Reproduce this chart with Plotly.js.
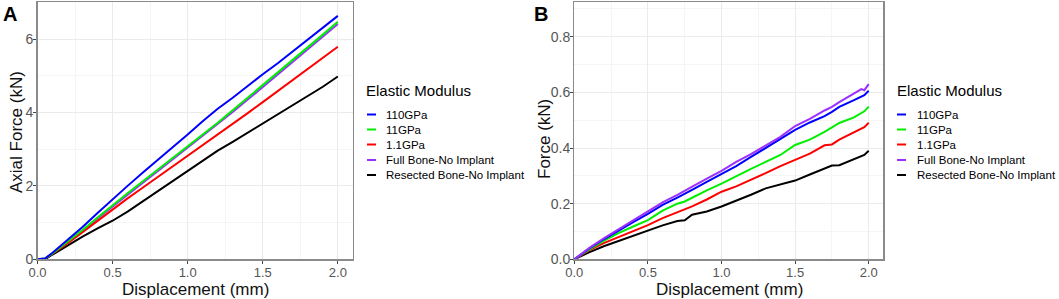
<!DOCTYPE html>
<html>
<head>
<meta charset="utf-8">
<script src="https://cdn.plot.ly/plotly-3.0.1.min.js"></script>
<style>html,body{margin:0;padding:0;background:#fff}#chart{width:1059px;height:299px}</style>
</head>
<body>
<div id="chart"></div>
<script>
// ---- Data ----
var seriesNames = ["110GPa", "11GPa", "1.1GPa", "Full Bone-No Implant", "Resected Bone-No Implant"];
var seriesColors = ["#0000ff", "#00ee00", "#ff0000", "#9b30ff", "#000000"];

// Panel A: Axial force (kN) vs displacement (mm)
var dispA = [0, 0.05, 0.1, 0.2, 0.3, 0.4, 0.5, 0.6, 0.7, 0.8, 0.9, 1.0, 1.1, 1.2, 1.3, 1.4, 1.5, 1.6, 1.7, 1.8, 1.9, 2.0];
var a110 = [0, 0.02, 0.18, 0.52, 0.88, 1.26, 1.64, 2.0, 2.36, 2.7, 3.05, 3.4, 3.76, 4.1, 4.4, 4.73, 5.04, 5.34, 5.66, 5.98, 6.3, 6.63];
var a11 = [0, 0.02, 0.16, 0.47, 0.8, 1.14, 1.48, 1.8, 2.12, 2.44, 2.76, 3.06, 3.4, 3.72, 4.06, 4.4, 4.75, 5.1, 5.44, 5.78, 6.12, 6.47];
var a1_1 = [0, 0.02, 0.15, 0.43, 0.74, 1.05, 1.36, 1.66, 1.95, 2.24, 2.52, 2.8, 3.1, 3.4, 3.68, 3.98, 4.28, 4.58, 4.88, 5.18, 5.48, 5.79];
var aFull = [0, 0.01, 0.14, 0.45, 0.78, 1.11, 1.44, 1.76, 2.08, 2.4, 2.72, 3.03, 3.36, 3.68, 4.01, 4.35, 4.69, 5.03, 5.37, 5.71, 6.06, 6.41];
var aResected = [0, 0.0, 0.13, 0.38, 0.62, 0.84, 1.05, 1.3, 1.58, 1.84, 2.12, 2.42, 2.7, 2.96, 3.2, 3.45, 3.7, 3.94, 4.2, 4.46, 4.7, 4.98];

// Panel B: Force (kN) vs displacement (mm)
var dispB = [0, 0.1, 0.2, 0.3, 0.4, 0.5, 0.6, 0.7, 0.75, 0.8, 0.9, 1.0, 1.1, 1.2, 1.3, 1.4, 1.5, 1.6, 1.7, 1.75, 1.8, 1.9, 1.95, 1.97, 2.0];
var b110 = [0, 0.038, 0.072, 0.104, 0.134, 0.163, 0.196, 0.222, 0.235, 0.25, 0.278, 0.305, 0.335, 0.368, 0.4, 0.43, 0.465, 0.492, 0.515, 0.53, 0.548, 0.572, 0.585, 0.59, 0.606];
var b11 = [0, 0.035, 0.066, 0.094, 0.118, 0.141, 0.175, 0.2, 0.208, 0.222, 0.248, 0.272, 0.3, 0.325, 0.35, 0.375, 0.411, 0.43, 0.458, 0.475, 0.49, 0.51, 0.528, 0.532, 0.549];
var b1_1 = [0, 0.032, 0.058, 0.08, 0.102, 0.123, 0.148, 0.17, 0.18, 0.19, 0.215, 0.243, 0.262, 0.285, 0.31, 0.335, 0.357, 0.38, 0.41, 0.413, 0.43, 0.455, 0.47, 0.475, 0.491];
var bFull = [0, 0.04, 0.075, 0.108, 0.14, 0.171, 0.205, 0.232, 0.247, 0.262, 0.29, 0.318, 0.35, 0.378, 0.41, 0.44, 0.479, 0.505, 0.535, 0.548, 0.565, 0.595, 0.612, 0.608, 0.63];
var bResected = [0, 0.025, 0.047, 0.066, 0.085, 0.103, 0.122, 0.138, 0.14, 0.16, 0.172, 0.19, 0.21, 0.232, 0.255, 0.27, 0.283, 0.305, 0.325, 0.337, 0.338, 0.36, 0.37, 0.375, 0.39];

var xTitle = "Displacement (mm)";
var yTitleA = "Axial Force (kN)";
var yTitleB = "Force (kN)";

var seriesA = [a110, a11, a1_1, aFull, aResected];
var seriesB = [b110, b11, b1_1, bFull, bResected];

var traces = [];
[3, 4, 2, 1, 0].forEach(function (i) {
  traces.push({x: dispA, y: seriesA[i], type: 'scatter', mode: 'lines', name: seriesNames[i],
    line: {color: seriesColors[i], width: 2}, xaxis: 'x', yaxis: 'y', showlegend: false});
});
[4, 2, 1, 0, 3].forEach(function (i) {
  traces.push({x: dispB, y: seriesB[i], type: 'scatter', mode: 'lines', name: seriesNames[i],
    line: {color: seriesColors[i], width: 2}, xaxis: 'x2', yaxis: 'y2', showlegend: false});
});

var W = 1059, H = 299;
function px(x) { return x / W; }
function py(y) { return 1 - y / H; }

var FONT = 'Liberation Sans, Arial, sans-serif';
function xaxisDef(dom) {
  return {
    domain: dom, range: [0, 2.099], tickvals: [0, 0.5, 1, 1.5, 2], ticktext: ['0.0', '0.5', '1.0', '1.5', '2.0'],
    showgrid: true, gridcolor: '#ebebeb', gridwidth: 1,
    minor: {dtick: 0.25, tick0: 0, showgrid: true, gridcolor: '#f5f5f5', gridwidth: 1},
    zeroline: false, showline: true, mirror: true, linecolor: '#8a8a8a', linewidth: 1.3,
    ticks: 'outside', ticklen: 3, tickcolor: '#444', tickwidth: 1, ticklabelstandoff: -2,
    tickfont: {family: FONT, size: 13, color: '#555'},
    automargin: false, fixedrange: true
  };
}
function yaxisDef(rng, ticks, labels, minorDt) {
  return {
    domain: [py(259.3), py(2.3)], range: rng, tickvals: ticks, ticktext: labels,
    showgrid: true, gridcolor: '#ebebeb', gridwidth: 1,
    minor: {dtick: minorDt, tick0: 0, showgrid: true, gridcolor: '#f5f5f5', gridwidth: 1},
    zeroline: false, showline: true, mirror: true, linecolor: '#8a8a8a', linewidth: 1.3,
    ticks: 'outside', ticklen: 3, tickcolor: '#444', tickwidth: 1, ticklabelstandoff: -3,
    tickfont: {family: FONT, size: 14, color: '#555'},
    automargin: false, fixedrange: true
  };
}

function ann(text, x, y, size, opts) {
  return Object.assign({text: text, x: px(x), y: py(y), xref: 'paper', yref: 'paper', xanchor: 'left', yanchor: 'middle',
    showarrow: false, borderpad: 0, font: {family: FONT, size: size, color: '#000'}}, opts || {});
}
var titleFont = {family: FONT, size: 17, color: '#111'};

var annotations = [
  ann('<b>A</b>', 2, 14, 20),
  ann('<b>B</b>', 533, 14, 20),
  ann(xTitle, 195, 289, 17, {xanchor: 'center', font: titleFont}),
  ann(xTitle, 729, 289, 17, {xanchor: 'center', font: titleFont}),
  ann(yTitleA, 17, 132, 17, {xanchor: 'center', textangle: -90, font: titleFont}),
  ann(yTitleB, 544, 139, 17, {xanchor: 'center', textangle: -90, font: titleFont})
];
var shapes = [];
var legendPos = [{title: 366, line: 367, text: 385.7}, {title: 896.7, line: 897, text: 916.7}];
var itemY = [114.5, 129.5, 144.5, 160, 175];
legendPos.forEach(function (lp) {
  annotations.push(ann('Elastic Modulus', lp.title - 1, 90, 15));
  seriesNames.forEach(function (n, i) {
    annotations.push(ann(n, lp.text - 1, itemY[i], 11.5));
    shapes.push({type: 'line', xref: 'paper', yref: 'paper', x0: px(lp.line), x1: px(lp.line + 9),
      y0: py(itemY[i]), y1: py(itemY[i]), line: {color: seriesColors[i], width: 2}});
  });
});

var layout = {
  width: W, height: H,
  margin: {l: 0, r: 0, t: 0, b: 0},
  paper_bgcolor: '#ffffff', plot_bgcolor: '#ffffff',
  showlegend: false,
  xaxis: Object.assign(xaxisDef([px(37.5), px(352.7)]), {anchor: 'y'}),
  yaxis: Object.assign(yaxisDef([0, 7.0], [0, 2, 4, 6], ['0', '2', '4', '6'], 1), {anchor: 'x'}),
  xaxis2: Object.assign(xaxisDef([px(574.3), px(883.3)]), {anchor: 'y2'}),
  yaxis2: Object.assign(yaxisDef([0, 0.924], [0, 0.2, 0.4, 0.6, 0.8], ['0.0', '0.2', '0.4', '0.6', '0.8'], 0.1), {anchor: 'x2'}),
  annotations: annotations,
  shapes: shapes
};

Plotly.newPlot('chart', traces, layout, {displayModeBar: false, staticPlot: true});
</script>
</body>
</html>
